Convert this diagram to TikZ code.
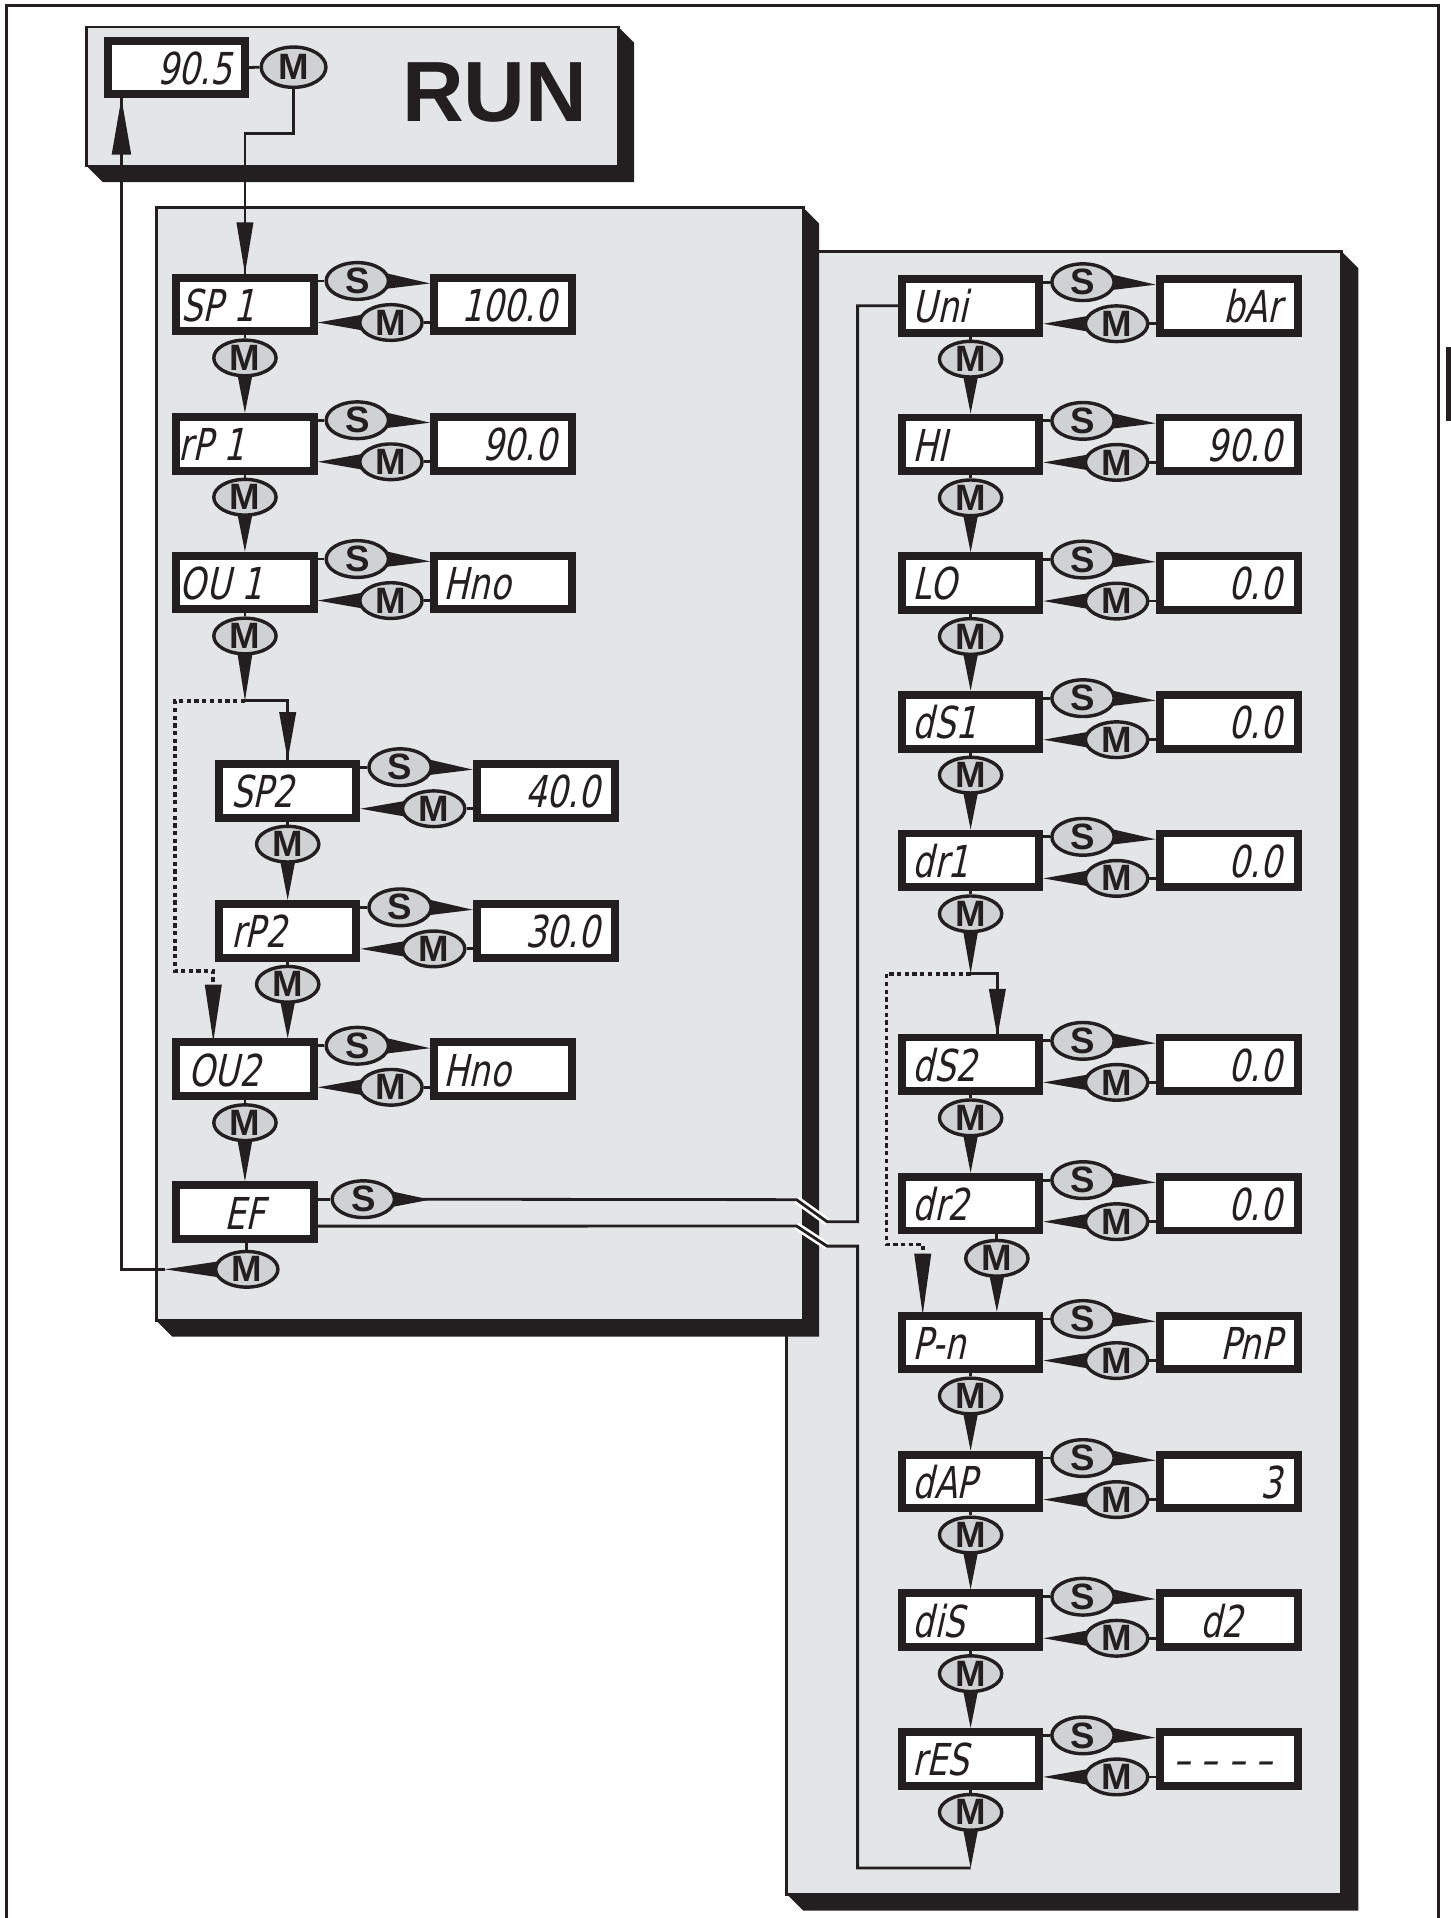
\documentclass[tikz,border=0pt]{standalone}
\usepackage{fontspec}
\usetikzlibrary{shapes.geometric,calc}
\newfontfamily\segfont[FakeSlant=0.22,FakeStretch=0.76]{DejaVu Sans}
\newfontfamily\btnfont{Liberation Sans}
\definecolor{ink}{HTML}{231F20}
\definecolor{panelgray}{HTML}{E4E5E6}
\definecolor{btngray}{HTML}{D0D1D3}
\pgfdeclarelayer{bg}\pgfdeclarelayer{mid}\pgfsetlayers{bg,mid,main}
\tikzset{
 dbox/.style={rectangle, draw=ink, line width=6.5pt, fill=white, minimum width=112.5pt, minimum height=44pt, inner sep=0pt},
 dval/.style={dbox, minimum width=113pt},
 lcd/.style={inner sep=0pt, text=ink, font=\segfont\fontsize{36}{36}\selectfont},
 btn/.style={ellipse, draw=ink, line width=2.8pt, fill=btngray, minimum width=51pt, minimum height=27pt, inner sep=0pt, text=ink, font=\btnfont\bfseries\fontsize{30}{30}\selectfont},
 conn/.style={draw=ink, line width=2.3pt},
 dotline/.style={draw=ink, line width=3pt, dash pattern=on 3.5pt off 2.8pt},
 runlbl/.style={inner sep=0pt, text=ink, font=\btnfont\bfseries\fontsize{70}{70}\selectfont},
 panelbox/.style={draw=ink, line width=2.2pt, fill=panelgray},
}
% row: name, x0, top, label, label dx, value, value anchor, value dx
\newcommand\prow[8]{%
 \node[dbox] (#1b) at ({#2+59.5},{#3+25.25}) {};
 \node[dval] (#1v) at ({#2+270.75},{#3+25.25}) {};
 \node[lcd, anchor=base west] (#1t) at ({#2+#5},{#3+39}) {#4};
 \node[lcd, anchor=#7] (#1u) at ({#2+#8},{#3+39}) {#6};
 \node[btn] (#1s) at ({#2+151.5},{#3+6}) {S};
 \node[btn] (#1m) at ({#2+179},{#3+40}) {M};
 \begin{pgfonlayer}{mid}
  \draw[conn] (#1b.east |- #1s.center) -- (#1s.west);
  \draw[conn] (#1m.east) -- (#1v.west |- #1m.center);
  \fill[ink] ($(#1s.east)+(-4,-6.5)$) -- ($(#1s.east)+(-4,6.5)$) -- ($(#1v.west |- #1s.center)+(0,2)$) -- cycle;
  \fill[ink] ($(#1m.west)+(4,-6.5)$) -- ($(#1m.west)+(4,6.5)$) -- (#1b.east |- #1m.center) -- cycle;
 \end{pgfonlayer}}
\newcommand\vm[3]{\node[btn] (#1) at (#2,#3) {M};}
\newcommand\vwedge[2]{\fill[ink] ($(#1.south)+(-6.5,-4)$) -- ($(#1.south)+(6.5,-4)$) -- (#2) -- cycle;}
\newcommand\shadowpanel[5]{%
 \fill[ink] (#1,#2) -- (#3,#2) -- ({#3+#5},{#2+#5}) -- ({#3+#5},{#4+#5}) -- ({#1+#5},{#4+#5}) -- (#1,#4) -- cycle;
 \path[panelbox] (#1,#2) rectangle (#3,#4);}
\begin{document}
\begin{tikzpicture}[x=1pt,y=-1pt]
\useasboundingbox (0,0) rectangle (1187,1570);
\begin{pgfonlayer}{bg}
 \fill[white] (0,0) rectangle (1187,1570);
 \draw[ink, line width=2.8pt] (5.5,1572) -- (5.5,4.5) -- (1177.5,4.5) -- (1177.5,1572);
 \fill[ink] (1184,284) rectangle (1188,345);
 \shadowpanel{71}{22}{506}{136}{13}
 \shadowpanel{644}{206}{1098.3}{1550.5}{13.5}
 \shadowpanel{128}{170}{657.5}{1081}{13}
\end{pgfonlayer}

% RUN block
\node[dbox] (run) at (144.3,55.25) {};
\node[lcd, anchor=base east] (runv) at (190,69.5) {90.5};
\node[btn, minimum width=53pt, minimum height=33pt] (runm) at (240.3,55) {M};
\node[runlbl, anchor=base] (runt) at (405,99.6) {RUN};

% left panel rows
\prow{sp1}{141}{224}{SP 1}{7}{100.0}{base east}{315}
\prow{rpa}{141}{338}{rP 1}{5}{90.0}{base east}{315}
\prow{oua}{141}{451.6}{OU 1}{6}{Hno}{base west}{222}
\prow{sp2}{176}{622}{SP2}{13}{40.0}{base east}{315}
\prow{rpb}{176}{736.7}{rP2}{13}{30.0}{base east}{315}
\prow{oub}{141}{850}{OU2}{13}{Hno}{base west}{222}
\node[dbox] (efb) at (200.5,992.25) {};
\node[lcd, anchor=base] (eft) at (200.5,1006) {EF};
\node[btn] (efs) at (297.4,981.6) {S};
\node[btn] (efm) at (202,1039) {M};

\vm{sp1mv}{200.5}{293}
\vm{rpamv}{200.5}{407}
\vm{ouamv}{200.5}{520.6}
\vm{sp2mv}{235.5}{691}
\vm{rpbmv}{235.5}{805.7}
\vm{oubmv}{200.5}{919}

% right panel rows
\prow{uni}{735}{225}{Uni}{12}{bAr}{base east}{314}
\prow{hi}{735}{338.5}{HI}{12}{90.0}{base east}{314}
\prow{lo}{735}{452}{LO}{12}{0.0}{base east}{314}
\prow{dsa}{735}{565.5}{dS1}{12}{0.0}{base east}{314}
\prow{dra}{735}{679}{dr1}{12}{0.0}{base east}{314}
\prow{dsb}{735}{846}{dS2}{12}{0.0}{base east}{314}
\prow{drb}{735}{960}{dr2}{12}{0.0}{base east}{314}
\prow{pn}{735}{1073.7}{P-n}{12}{PnP}{base east}{314}
\prow{dap}{735}{1187.5}{dAP}{12}{3}{base east}{314}
\prow{dis}{735}{1301}{diS}{12}{d2}{base}{265}
\prow{res}{735}{1414.5}{rES}{12}{\textendash\ \textendash\ \textendash\ \textendash}{base}{266}

\vm{unimv}{794.5}{294}
\vm{himv}{794.5}{407.5}
\vm{lomv}{794.5}{521}
\vm{dsamv}{794.5}{634.5}
\vm{dramv}{794.5}{748}
\vm{dsbmv}{794.5}{915}
\vm{drbmv}{816}{1030}
\vm{pnmv}{794.5}{1142.7}
\vm{dapmv}{794.5}{1256.5}
\vm{dismv}{794.5}{1370}
\vm{resmv}{794.5}{1483.5}

\coordinate (k1) at (240.3,109);
\coordinate (jL) at (200.5,573.6);
\coordinate (jR) at (794.5,797);
\coordinate (loopend) at (794.5,1529);
\coordinate (dl1) at (143.3,573.6);
\coordinate (dl2) at (143.3,795);
\coordinate (dl3) at (174.6,795);
\coordinate (dl4) at (174.6,806);
\coordinate (ou2in) at (174.6,852.5);
\coordinate (ds2in) at (816.4,848.5);
\coordinate (rdl1) at (725.6,797);
\coordinate (rdl2) at (725.6,1018.6);
\coordinate (rdl3) at (755.3,1018.6);
\coordinate (rdl4) at (755.3,1026);
\coordinate (pnin) at (755.3,1076.2);
\coordinate (efmtip) at (135,1039);
\coordinate (ret1) at (99.4,1039);
\coordinate (runin) at (run.south -| ret1);
\coordinate (e1) at (352,982);
\coordinate (e2) at (652,982);
\coordinate (e3) at (677,1000);
\coordinate (e4) at (702,1000);
\coordinate (f0) at ($(efb.east)+(0,11.4)$);
\coordinate (f1) at (652,1003.6);
\coordinate (f2) at (677,1020);
\coordinate (f3) at (702,1020);

\begin{pgfonlayer}{mid}
 % RUN -> SP1
 \draw[conn] (run.east) -- (runm.west);
 \draw[conn] (runm.south) -- (k1) -| (sp1b.north);
 \fill[ink] ($(sp1b.north)+(-7,-42)$) -- ($(sp1b.north)+(7,-42)$) -- (sp1b.north) -- cycle;
 % left column
 \draw[conn] (sp1b.south) -- (sp1mv.north);
 \draw[conn] (rpab.south) -- (rpamv.north);
 \draw[conn] (ouab.south) -- (ouamv.north);
 \draw[conn] (sp2b.south) -- (sp2mv.north);
 \draw[conn] (rpbb.south) -- (rpbmv.north);
 \draw[conn] (oubb.south) -- (oubmv.north);
 \draw[conn] (efm.north |- efb.south) -- (efm.north);
 \vwedge{sp1mv}{rpab.north}
 \vwedge{rpamv}{ouab.north}
 \vwedge{ouamv}{jL}
 \vwedge{sp2mv}{rpbb.north}
 \vwedge{rpbmv}{rpbmv.south |- oubb.north}
 \vwedge{oubmv}{efb.north}
 \draw[conn] (jL) -| (sp2b.north);
 \fill[ink] ($(sp2b.north)+(-7,-39)$) -- ($(sp2b.north)+(7,-39)$) -- (sp2b.north) -- cycle;
 \draw[dotline] (jL) -- (dl1) -- (dl2) -- (dl3) -- (dl4);
 \fill[ink] ($(ou2in)+(-7,-46.5)$) -- ($(ou2in)+(7,-46.5)$) -- (ou2in) -- cycle;
 % EF back to RUN
 \fill[ink] ($(efm.west)+(4,-6.5)$) -- ($(efm.west)+(4,6.5)$) -- (efmtip) -- cycle;
 \draw[conn] (efmtip) -- (ret1) -- (runin);
 \fill[ink] ($(runin)+(-8,46)$) -- ($(runin)+(8,46)$) -- (runin) -- cycle;
 % EF S to Uni
 \draw[conn] (efb.east |- efs.center) -- (efs.west);
 \fill[ink] ($(efs.east)+(-4,-6.5)$) -- ($(efs.east)+(-4,6.5)$) -- (e1) -- cycle;
 \draw[white, line width=6.5pt] (e2) -- (e3);
 \draw[white, line width=6.5pt] (f1) -- (f2);
 \draw[conn] (efs.east) -- (e2) -- (e3) -- (e4) |- (unib.west);
 \draw[conn] (f0) -- (f1) -- (f2) -- (f3) |- (loopend);
 % right column
 \draw[conn] (unib.south) -- (unimv.north);
 \draw[conn] (hib.south) -- (himv.north);
 \draw[conn] (lob.south) -- (lomv.north);
 \draw[conn] (dsab.south) -- (dsamv.north);
 \draw[conn] (drab.south) -- (dramv.north);
 \draw[conn] (dsbb.south) -- (dsbmv.north);
 \draw[conn] (drbmv.north |- drbb.south) -- (drbmv.north);
 \draw[conn] (pnb.south) -- (pnmv.north);
 \draw[conn] (dapb.south) -- (dapmv.north);
 \draw[conn] (disb.south) -- (dismv.north);
 \draw[conn] (resb.south) -- (resmv.north);
 \vwedge{unimv}{hib.north}
 \vwedge{himv}{lob.north}
 \vwedge{lomv}{dsab.north}
 \vwedge{dsamv}{drab.north}
 \vwedge{dramv}{jR}
 \vwedge{dsbmv}{drbb.north}
 \vwedge{drbmv}{drbmv.south |- pnb.north}
 \vwedge{pnmv}{dapb.north}
 \vwedge{dapmv}{disb.north}
 \vwedge{dismv}{resb.north}
 \vwedge{resmv}{loopend}
 \draw[conn] (jR) -| (ds2in);
 \fill[ink] ($(ds2in)+(-7,-39)$) -- ($(ds2in)+(7,-39)$) -- (ds2in) -- cycle;
 \draw[dotline] (jR) -- (rdl1) -- (rdl2) -- (rdl3) -- (rdl4);
 \fill[ink] ($(pnin)+(-7,-50)$) -- ($(pnin)+(7,-50)$) -- (pnin) -- cycle;
\end{pgfonlayer}
\end{tikzpicture}
\end{document}
